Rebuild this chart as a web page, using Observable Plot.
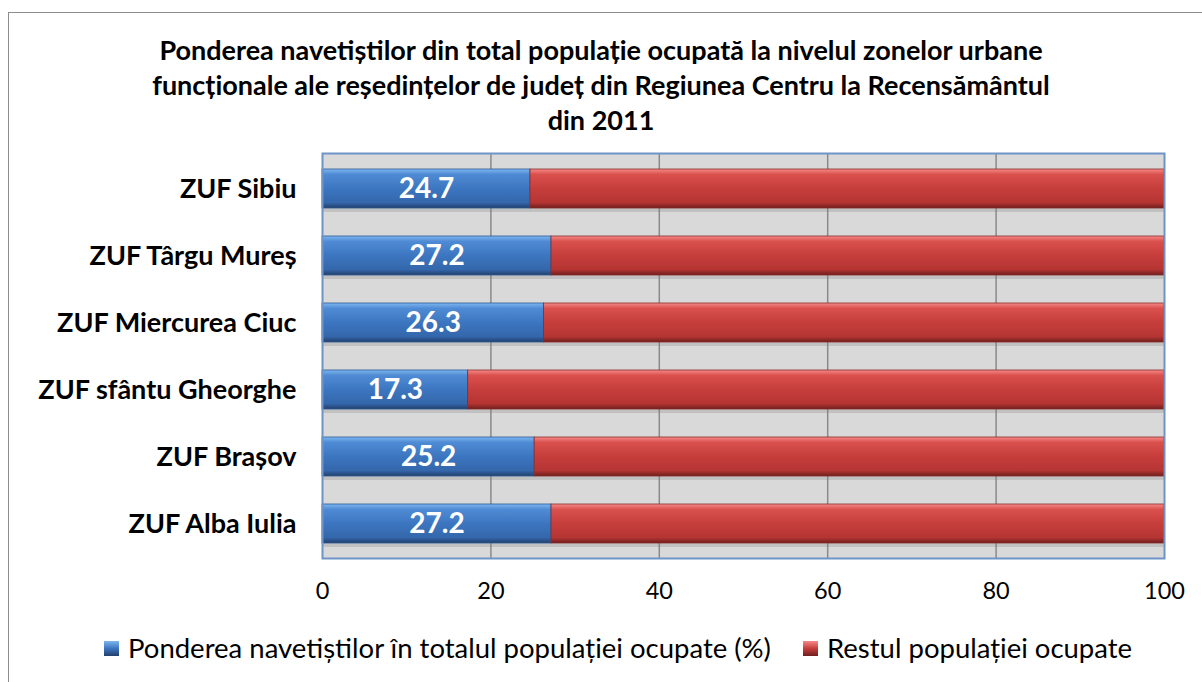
<!DOCTYPE html>
<html>
<head>
<meta charset="utf-8">
<script src="https://cdn.jsdelivr.net/npm/d3@7"></script>
<script src="https://cdn.jsdelivr.net/npm/@observablehq/plot@0.6"></script>
<style>
  html, body { margin: 0; padding: 0; background: #fff; overflow: hidden; width: 1202px; height: 682px; }
  #border { position: absolute; left: 8px; top: 12px; width: 1300px; height: 800px; border: 1.5px solid #8c8c8c; box-sizing: border-box; }
  #title { position: absolute; left: 0; top: 32px; width: 1202px; text-align: center; font-family: Lato, sans-serif; font-weight: bold; font-size: 27px; line-height: 35px; color: #000; }
  #chart { position: absolute; left: 0; top: 140px; }
  #legend { position: absolute; left: 0; top: 632px; width: 1202px; height: 32px; font-family: Lato, sans-serif; font-size: 27.5px; line-height: 32px; color: #000; }
  .sw { width: 15px; height: 15px; margin-right: 9px; box-sizing: border-box; flex: none; }
  .item { position: absolute; top: 0; display: flex; align-items: center; white-space: nowrap; }
</style>
</head>
<body>
<div id="border"></div>
<div id="title">Ponderea navetiștilor din total populație ocupată la nivelul zonelor urbane<br>funcționale ale reședințelor de județ din Regiunea Centru la Recensământul<br>din 2011</div>
<div id="chart"></div>
<div id="legend"></div>
<script>
const categories = ["ZUF Sibiu", "ZUF Târgu Mureș", "ZUF Miercurea Ciuc", "ZUF sfântu Gheorghe", "ZUF Brașov", "ZUF Alba Iulia"];
const commuters = [24.7, 27.2, 26.3, 17.3, 25.2, 27.2];
const restValues = [75.3, 72.8, 73.7, 82.7, 74.8, 72.8];
const seriesNames = ["Ponderea navetiștilor în totalul populației ocupate (%)", "Restul populației ocupate"];
const xTicks = [0, 20, 40, 60, 80, 100];
const gridTicks = [20, 40, 60, 80];

const rows = categories.map((c, i) => ({cat: c, commute: commuters[i], rest: restValues[i]}));

const plot = Plot.plot({
  width: 1202,
  height: 480,
  marginLeft: 322,
  marginRight: 38,
  marginTop: 13,
  marginBottom: 62,
  style: {fontFamily: "Lato, sans-serif", color: "#000", background: "transparent", overflow: "visible"},
  x: {domain: [0, 100], ticks: xTicks, label: null},
  y: {domain: categories, paddingInner: 0.42, paddingOuter: 0.21, label: null},
  marks: [
    Plot.frame({fill: "#d9d9d9"}),
    Plot.ruleX(gridTicks, {stroke: "#8a8a8a", strokeWidth: 1.5}),
    Plot.barX(rows, {y: "cat", x1: 0, x2: d => d.commute + d.rest, fill: "#7a7a7a", fillOpacity: 0.25, dy: 4}),
    Plot.barX(rows, {y: "cat", x1: 0, x2: "commute", fill: "url(#gBlue)", stroke: "#2b5a96", strokeWidth: 0.8}),
    Plot.barX(rows, {y: "cat", x1: "commute", x2: d => d.commute + d.rest, fill: "url(#gRed)", stroke: "#8a2b2a", strokeWidth: 0.8}),
    Plot.text(rows, {y: "cat", x: d => d.commute / 2, text: d => d.commute.toFixed(1), fill: "white", fontWeight: "bold", fontSize: 28}),
    Plot.frame({stroke: "#6f93c6", strokeWidth: 2}),
    Plot.axisX({ticks: xTicks, tickSize: 0, tickPadding: 24, fontSize: 23.5, label: null}),
    Plot.axisY({tickSize: 0, tickPadding: 26, fontSize: 27, fontWeight: "bold", label: null})
  ]
});

d3.select(plot).insert("defs", ":first-child").html(`
  <linearGradient id="gBlue" x1="0" y1="0" x2="0" y2="1">
    <stop offset="0" stop-color="#7db6f0"/>
    <stop offset="0.14" stop-color="#4f8bd4"/>
    <stop offset="0.5" stop-color="#3c76c0"/>
    <stop offset="0.86" stop-color="#3467ab"/>
    <stop offset="1" stop-color="#223f6c"/>
  </linearGradient>
  <linearGradient id="gRed" x1="0" y1="0" x2="0" y2="1">
    <stop offset="0" stop-color="#f58a88"/>
    <stop offset="0.14" stop-color="#d9504d"/>
    <stop offset="0.5" stop-color="#c63e3c"/>
    <stop offset="0.86" stop-color="#b53533"/>
    <stop offset="1" stop-color="#6e1f1e"/>
  </linearGradient>
`);

document.getElementById("chart").appendChild(plot);

const legend = d3.select("#legend");
const colors = ["linear-gradient(#7db6f0, #3c76c0 50%, #223f6c)", "linear-gradient(#f58a88, #c63e3c 50%, #6e1f1e)"];
const legendLeft = [104, 803];
seriesNames.forEach((name, i) => {
  const item = legend.append("div").attr("class", "item").style("left", legendLeft[i] + "px").style("height", "32px");
  item.append("div").attr("class", "sw").style("background", colors[i]);
  item.append("span").text(name);
});
</script>
</body>
</html>
